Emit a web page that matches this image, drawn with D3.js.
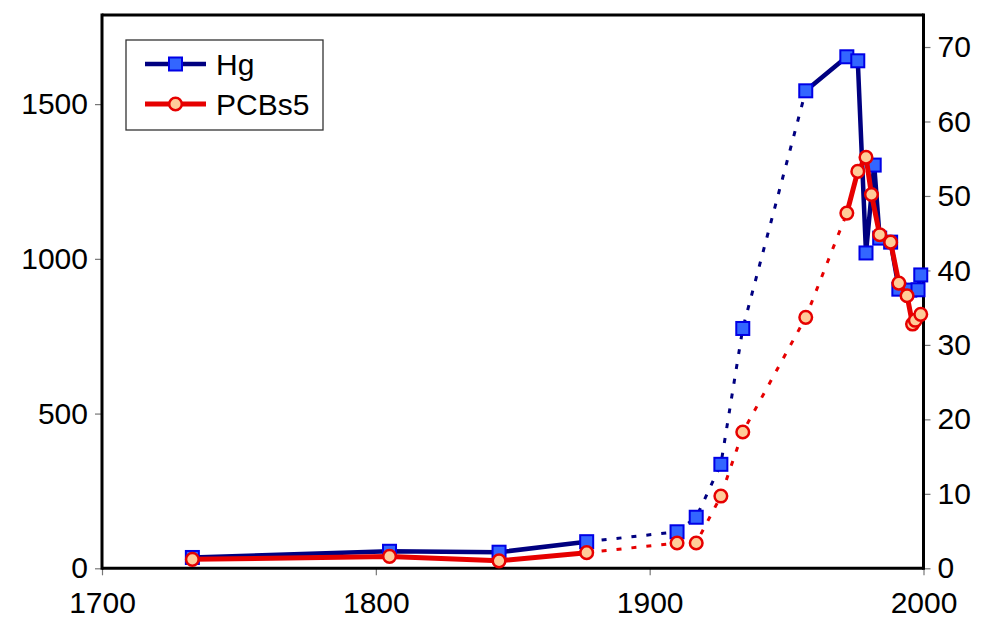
<!DOCTYPE html>
<html>
<head>
<meta charset="utf-8">
<script src="https://cdn.jsdelivr.net/npm/d3@7/dist/d3.min.js"></script>
<style>
  html, body { margin: 0; padding: 0; background: #fff; }
  svg { display: block; }
  text { font-family: "Liberation Sans", Arial, sans-serif; }
</style>
</head>
<body>
<svg id="chart" width="982" height="619"></svg>
<script>
// ---- data ----
const hgYears  = [1733, 1805, 1845, 1877, 1910, 1917, 1926, 1934, 1957, 1972, 1976, 1979, 1982, 1984, 1988, 1991, 1995, 1998, 1999];
const hgValues = [35, 55, 52, 86, 118, 165, 336, 775, 1543, 1653, 1640, 1019, 1303, 1067, 1054, 902, 899, 900, 948];

const pcbYears  = [1733, 1805, 1845, 1877, 1910, 1917, 1926, 1934, 1957, 1972, 1976, 1979, 1981, 1984, 1988, 1991, 1994, 1996, 1997, 1999];
const pcbValues = [1.2, 1.6, 1.0, 2.1, 3.4, 3.4, 9.7, 18.3, 33.7, 47.7, 53.3, 55.2, 50.2, 44.8, 43.8, 38.3, 36.6, 32.8, 33.3, 34.1];

// years between which the series are drawn dotted (gap in sampling)
const hgDottedSpan  = [1877, 1957];
const pcbDottedSpan = [1877, 1972];

const xTicks      = [1700, 1800, 1900, 2000];
const leftTicks   = [0, 500, 1000, 1500];
const rightTicks  = [0, 10, 20, 30, 40, 50, 60, 70];
const seriesNames = ["Hg", "PCBs5"];

// ---- layout ----
const svg = d3.select("#chart");
const m = { left: 102, right: 923.5, top: 15, bottom: 568.3 };

const x  = d3.scaleLinear().domain([1700, 2000]).range([m.left, m.right]);
const yL = d3.scaleLinear().domain([0, 1788]).range([m.bottom, m.top]);
const yR = d3.scaleLinear().domain([0, 74.3]).range([m.bottom, m.top]);

// ---- axes ----
const fontSize = 30;
const fmt = d3.format("d");
const axL = svg.append("g").attr("transform", `translate(${m.left},0)`)
  .call(d3.axisLeft(yL).tickValues(leftTicks).tickFormat(fmt).tickSize(7).tickPadding(7).tickSizeOuter(0));
const axR = svg.append("g").attr("transform", `translate(${m.right},0)`)
  .call(d3.axisRight(yR).tickValues(rightTicks).tickFormat(fmt).tickSize(7).tickPadding(7).tickSizeOuter(0));
const axB = svg.append("g").attr("transform", `translate(0,${m.bottom})`)
  .call(d3.axisBottom(x).tickValues(xTicks).tickFormat(fmt).tickSize(7).tickPadding(10).tickSizeOuter(0));

[axL, axR, axB].forEach(a => {
  a.select(".domain").remove();
  a.selectAll(".tick line").attr("stroke", "#777").attr("stroke-width", 1.2);
  a.selectAll(".tick text").attr("fill", "#000").style("font-size", fontSize + "px")
    .style("font-family", "'Liberation Sans', Arial, sans-serif");
});
axB.selectAll(".tick text").attr("y", 613 - m.bottom).attr("dy", 0);

// frame lines
const frame = svg.append("g").attr("stroke", "#000").attr("stroke-width", 3).attr("fill", "none");
frame.append("line").attr("x1", m.left).attr("x2", m.right).attr("y1", m.top).attr("y2", m.top);
frame.append("line").attr("x1", m.left).attr("x2", m.right).attr("y1", m.bottom).attr("y2", m.bottom);
frame.append("line").attr("x1", m.left).attr("x2", m.left).attr("y1", m.top - 1.5).attr("y2", m.bottom + 1.5);
frame.append("line").attr("x1", m.right).attr("x2", m.right).attr("y1", m.top - 1.5).attr("y2", m.bottom + 1.5);

// ---- series ----
function drawSeries(years, values, yScale, span, color, solidW, dotW) {
  const pts = years.map((yr, i) => ({ yr, v: values[i] }));
  const line = d3.line().x(d => x(d.yr)).y(d => yScale(d.v));
  const before = pts.filter(d => d.yr <= span[0]);
  const mid    = pts.filter(d => d.yr >= span[0] && d.yr <= span[1]);
  const after  = pts.filter(d => d.yr >= span[1]);
  const g = svg.append("g");
  g.append("path").datum(before).attr("d", line).attr("fill", "none")
    .attr("stroke", color).attr("stroke-width", solidW).attr("stroke-linejoin", "round");
  g.append("path").datum(mid).attr("d", line).attr("fill", "none")
    .attr("stroke", color).attr("stroke-width", dotW).attr("stroke-dasharray", "5,10");
  g.append("path").datum(after).attr("d", line).attr("fill", "none")
    .attr("stroke", color).attr("stroke-width", solidW).attr("stroke-linejoin", "round");
  return { g, pts };
}

const hg = drawSeries(hgYears, hgValues, yL, hgDottedSpan, "#000080", 4.5, 3);
hg.g.selectAll("rect").data(hg.pts).join("rect")
  .attr("x", d => x(d.yr) - 6.5).attr("y", d => yL(d.v) - 6.5)
  .attr("width", 13).attr("height", 13)
  .attr("fill", "#3366ff").attr("stroke", "#0000e6").attr("stroke-width", 2);

const pcb = drawSeries(pcbYears, pcbValues, yR, pcbDottedSpan, "#e60000", 5, 3);
pcb.g.selectAll("circle").data(pcb.pts).join("circle")
  .attr("cx", d => x(d.yr)).attr("cy", d => yR(d.v)).attr("r", 6.3)
  .attr("fill", "#ffcc99").attr("stroke", "#e60000").attr("stroke-width", 2.5);

// ---- legend ----
const lg = svg.append("g");
lg.append("rect").attr("x", 126).attr("y", 40).attr("width", 197).attr("height", 90)
  .attr("fill", "#fff").attr("stroke", "#333").attr("stroke-width", 1.3);
const legendRows = [
  { name: seriesNames[0], y: 64, color: "#000080", w: 4.5 },
  { name: seriesNames[1], y: 104, color: "#e60000", w: 5 }
];
legendRows.forEach((r, i) => {
  lg.append("line").attr("x1", 145).attr("x2", 206).attr("y1", r.y).attr("y2", r.y)
    .attr("stroke", r.color).attr("stroke-width", r.w);
  if (i === 0) {
    lg.append("rect").attr("x", 175.5 - 6.5).attr("y", r.y - 6.5).attr("width", 13).attr("height", 13)
      .attr("fill", "#3366ff").attr("stroke", "#0000e6").attr("stroke-width", 2);
  } else {
    lg.append("circle").attr("cx", 175.5).attr("cy", r.y).attr("r", 6.3)
      .attr("fill", "#ffcc99").attr("stroke", "#e60000").attr("stroke-width", 2.5);
  }
  lg.append("text").attr("x", 216).attr("y", r.y).attr("dy", "0.36em")
    .style("font-size", "30px").attr("fill", "#000").text(r.name);
});
</script>
</body>
</html>
